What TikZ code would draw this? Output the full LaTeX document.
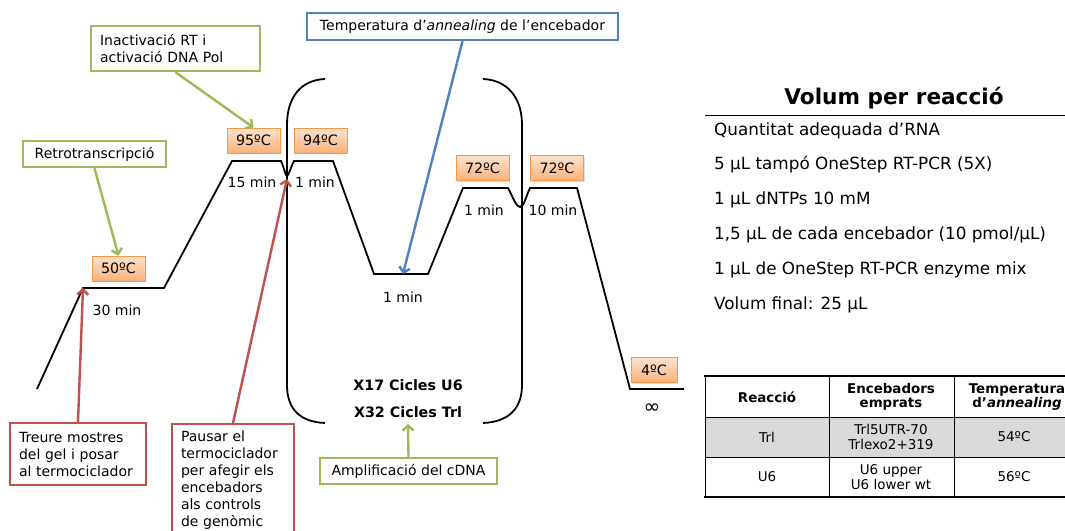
\documentclass[tikz,border=0pt]{standalone}
\usepackage{fontspec}
\setmainfont{DejaVu Sans}
\usetikzlibrary{arrows.meta,shadows}

\definecolor{notegreen}{HTML}{9BBB59}
\definecolor{notered}{HTML}{C0504D}
\definecolor{noteblue}{HTML}{4F81BD}
\definecolor{tempedge}{HTML}{F79646}
\definecolor{temptop}{HTML}{FDE2CC}
\definecolor{tempbot}{HTML}{F9B27C}
\definecolor{rowgray}{HTML}{D9D9D9}

\newcommand\fsz[2]{\fontsize{#1}{#2}\selectfont}

\tikzset{
  profile/.style={line width=1.8pt, line join=miter},
  bracketline/.style={line width=1.8pt},
  tempbox/.style={draw=tempedge, line width=0.9pt, top color=temptop, bottom color=tempbot,
    drop shadow={shadow xshift=1.2pt, shadow yshift=-1.2pt, opacity=0.25},
    minimum width=53pt, minimum height=25pt, inner sep=0pt, font=\fsz{14.3}{17}},
  dur/.style={font=\fsz{14}{16}, inner sep=0pt},
  note/.style={draw, line width=2.4pt, fill=white, inner sep=0pt, font=\fsz{14}{17}},
  callout/.style={line width=2.4pt, -{Straight Barb[length=5pt,width=11pt]}},
  cycles/.style={font=\bfseries\fsz{14.3}{17}, inner sep=0pt},
  listitem/.style={anchor=west, font=\fsz{16.8}{19}, inner sep=0pt},
  thead/.style={font=\bfseries\fsz{13.4}{14}, align=center, inner sep=0pt},
  tcell/.style={font=\fsz{13.5}{15}, align=center, inner sep=0pt},
}

\begin{document}
\begin{tikzpicture}[x=1pt, y=-1pt]
\clip (0,0) rectangle (1065,530);
\fill[white] (0,0) rectangle (1065,530);

% temperature profile
\coordinate (a0) at (37,389);
\coordinate (a1) at (83,288);
\coordinate (a2) at (164,288);
\coordinate (a3) at (232,161);
\coordinate (a4) at (281,161);
\coordinate (dipA) at (287,176);
\coordinate (a5) at (294,161);
\coordinate (a6) at (333,161);
\coordinate (a7) at (374,274);
\coordinate (a8) at (428,274);
\coordinate (a9) at (463,188);
\coordinate (a10) at (508,188);
\coordinate (dipB) at (520,207);
\coordinate (a11) at (530,188);
\coordinate (a12) at (577,188);
\coordinate (a13) at (630,389);
\coordinate (a14) at (684,389);
\coordinate (anneal) at (403,274);
\coordinate (pauseTip) at (287,179);
\coordinate (cycTip) at (408,424);

\draw[profile] (a0) -- (a1) -- (a2) -- (a3) -- (a4)
  .. controls (284.5,169) and (285.5,176) .. (dipA)
  .. controls (288.5,176) and (290,169) .. (a5)
  -- (a6) -- (a7) -- (a8) -- (a9) -- (a10)
  .. controls (513,197) and (516,207) .. (dipB)
  .. controls (524,207) and (526,196) .. (a11)
  -- (a12) -- (a13) -- (a14);

% cycle brackets
\draw[bracketline] (325,79) .. controls (301,80) and (287,97) .. (287,125) -- (287,385)
  .. controls (287,410) and (301,422) .. (325,423);
\draw[bracketline] (483,79) .. controls (507,80) and (522,97) .. (522,125) -- (522,385)
  .. controls (522,410) and (507,422) .. (483,423);

% temperatures
\node[tempbox] (t50) at (118.5,268.5) {50ºC};
\node[tempbox] (t95) at (253.5,140.5) {95ºC};
\node[tempbox] (t94) at (320.5,140.5) {94ºC};
\node[tempbox] (t72a) at (482.5,168) {72ºC};
\node[tempbox] (t72b) at (557,168) {72ºC};
\node[tempbox, minimum width=46pt] (t4) at (654,370) {4ºC};
\node[font=\fsz{20}{22}, inner sep=0pt] (inf) at (652,409) {∞};

% durations
\node[dur] (d30) at (117,310) {30 min};
\node[dur] (d15) at (252,182) {15 min};
\node[dur] (d1a) at (315,182) {1 min};
\node[dur] (d1b) at (403,297) {1 min};
\node[dur] (d1c) at (484,210) {1 min};
\node[dur] (d10) at (553,210) {10 min};

% cycles
\node[cycles] (cU6) at (408,385) {X17 Cicles U6};
\node[cycles] (cTrl) at (408,412) {X32 Cicles Trl};

% notes
\node[note, draw=notegreen, minimum width=143pt, minimum height=26pt] (retro) at (94.5,154) {Retrotranscripció};
\node[note, draw=notegreen, minimum width=169pt, minimum height=45pt, align=left, text width=151pt] (inact) at (175.5,48.5)
  {Inactivació RT i\\activació DNA Pol};
\node[note, draw=noteblue, minimum width=311pt, minimum height=27pt] (annl) at (462.5,26.5)
  {Temperatura d’\emph{annealing} de l’encebador};
\node[note, draw=notegreen, minimum width=177pt, minimum height=26pt] (ampl) at (408.5,471) {Amplificació del cDNA};
\node[note, draw=notered, minimum width=136pt, minimum height=62pt, align=left, text width=118pt] (treure) at (78,454)
  {Treure mostres\\del gel i posar\\al termociclador};
\node[note, draw=notered, anchor=north, minimum width=122pt, align=left, text width=104pt, inner ysep=7pt] (pausa) at (233,423)
  {Pausar el\\termociclador\\per afegir els\\encebadors\\als controls\\de genòmic\\ };

% callout arrows
\draw[callout, notegreen] (retro.south) -- (t50.north);
\draw[callout, notegreen] (inact.south) -- (t95.north);
\draw[callout, noteblue] (annl.south) -- (anneal);
\draw[callout, notegreen] (ampl.north) -- (cycTip);
\draw[callout, notered] (treure.north) -- (a1);
\draw[callout, notered] (pausa.north) -- (pauseTip);

% reaction volumes
\node[font=\bfseries\fsz{21.6}{24}, inner sep=0pt] (vtitle) at (894,98) {Volum per reacció};
\draw[line width=1pt] (705,115) -- (1065,115);
\node[listitem] (v1) at (714,131) {Quantitat adequada d’RNA};
\node[listitem] (v2) at (714,165) {5 µL tampó OneStep RT-PCR (5X)};
\node[listitem] (v3) at (714,200) {1 µL dNTPs 10 mM};
\node[listitem] (v4) at (714,235) {1,5 µL de cada encebador (10 pmol/µL)};
\node[listitem] (v5) at (714,270) {1 µL de OneStep RT-PCR enzyme mix};
\node[listitem] (v6) at (714,305) {Volum final: 25 µL};

% primer table
\fill[rowgray] (705,417) rectangle (1080,457);
\draw[line width=1.8pt] (704,376) -- (1080,376);
\draw[line width=0.8pt] (705,417) -- (1080,417);
\draw[line width=0.8pt] (705,457) -- (1080,457);
\draw[line width=1.8pt] (704,497) -- (1080,497);
\draw[line width=0.8pt] (705,376) -- (705,497);
\draw[line width=0.8pt] (829,376) -- (829,497);
\draw[line width=0.8pt] (954,376) -- (954,497);

\node[thead] (h1) at (767,397) {Reacció};
\node[thead] (h2) at (891,397) {Encebadors\\emprats};
\node[thead] (h3) at (1017,397) {Temperatura\\d’\textit{annealing}};
\node[tcell] (r1a) at (767,437) {Trl};
\node[tcell] (r1b) at (891,437) {Trl5UTR-70\\Trlexo2+319};
\node[tcell] (r1c) at (1014,437) {54ºC};
\node[tcell] (r2a) at (767,477) {U6};
\node[tcell] (r2b) at (891,477) {U6 upper\\U6 lower wt};
\node[tcell] (r2c) at (1014,477) {56ºC};
\end{tikzpicture}
\end{document}
